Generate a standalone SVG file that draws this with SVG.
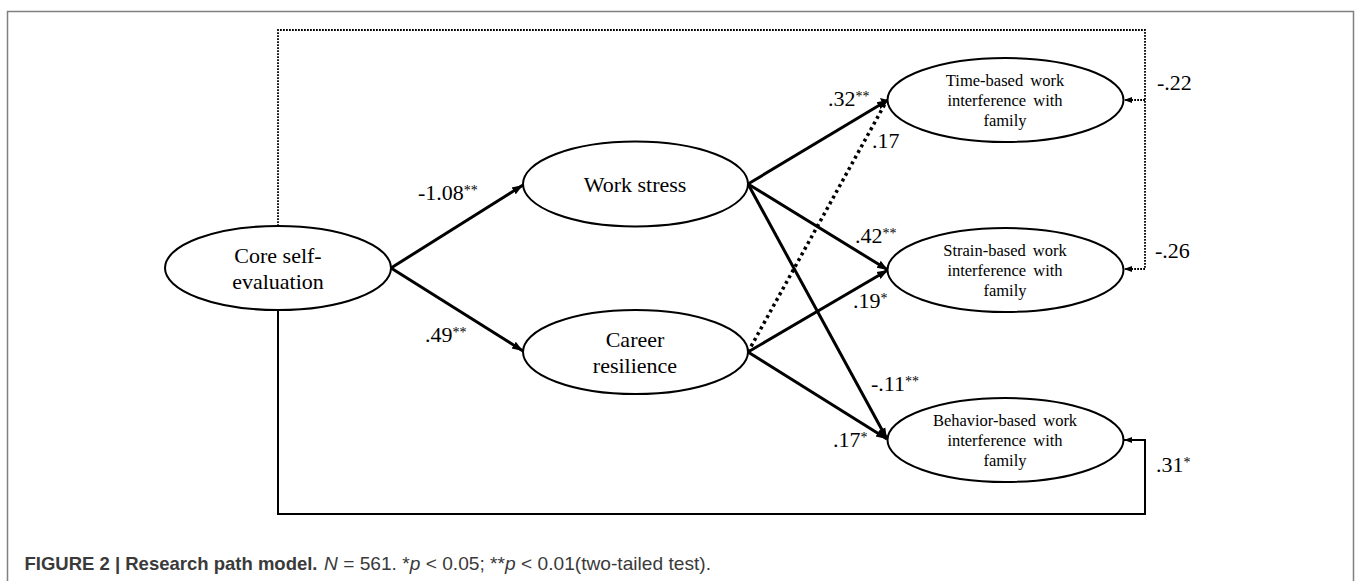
<svg xmlns="http://www.w3.org/2000/svg" width="1357" height="581" viewBox="0 0 1357 581">
<style>
.node ellipse{fill:#fff;stroke:#000;stroke-width:2}
.big{font-family:"Liberation Serif","Times New Roman",serif;font-size:22px;fill:#000;text-anchor:middle}
.small{font-family:"Liberation Serif","Times New Roman",serif;font-size:16.5px;fill:#000;text-anchor:middle;word-spacing:3px}
.lbl{font-family:"Liberation Serif","Times New Roman",serif;font-size:22px;fill:#000}
.sup{font-size:14px}
.arr{fill:none;stroke:#000;stroke-width:3}
.dotb{fill:none;stroke:#000;stroke-width:3.5;stroke-dasharray:3 3.5}
.dott{fill:none;stroke:#000;stroke-width:1.8;stroke-dasharray:1.8 1.2}
.solid{fill:none;stroke:#000;stroke-width:2}
.cap{font-family:"Liberation Sans",Arial,sans-serif;font-size:18.5px;fill:#3a3a3a}
</style>
<defs>
<marker id="ah" markerWidth="12" markerHeight="10" refX="11" refY="5" orient="auto" markerUnits="userSpaceOnUse"><path d="M0,1 L11,5 L0,9 z" fill="#000"/></marker>
<marker id="ahs" markerWidth="9" markerHeight="8" refX="8" refY="4" orient="auto" markerUnits="userSpaceOnUse"><path d="M0,1 L8,4 L0,7 z" fill="#000"/></marker>
</defs>
<rect width="1357" height="581" fill="#fff"/>
<path d="M7.5,581 V11.5 H1353.5 V581" fill="none" stroke="#808080" stroke-width="1.5"/>

<g id="connectors">
<path class="dott" d="M278,226 V30 H1145 V269"/>
<path class="dott" d="M1145,100 H1124" marker-end="url(#ahs)"/>
<path class="dott" d="M1145,269 H1124" marker-end="url(#ahs)"/>
<path class="solid" d="M278,310 V514 H1145 V440 H1124" marker-end="url(#ahs)"/>
<line class="arr" x1="391" y1="268" x2="523" y2="185" marker-end="url(#ah)"/>
<line class="arr" x1="391" y1="268" x2="523" y2="351" marker-end="url(#ah)"/>
<line class="arr" x1="748" y1="184" x2="888" y2="100" marker-end="url(#ah)"/>
<line class="arr" x1="748" y1="184" x2="888" y2="270" marker-end="url(#ah)"/>
<line class="arr" x1="748" y1="184" x2="887" y2="439" marker-end="url(#ah)"/>
<line class="dotb" x1="748" y1="352" x2="886" y2="102"/>
<line class="arr" x1="748" y1="352" x2="888" y2="270" marker-end="url(#ah)"/>
<line class="arr" x1="748" y1="352" x2="887" y2="439" marker-end="url(#ah)"/>
<path d="M880,98 L888,100 L884,107 z" fill="#000"/>
</g>

<g id="labels">
<text class="lbl" x="418" y="200">-1.08<tspan class="sup" dy="-5">**</tspan></text>
<text class="lbl" x="425" y="341.5">.49<tspan class="sup" dy="-5">**</tspan></text>
<text class="lbl" x="828" y="106">.32<tspan class="sup" dy="-5">**</tspan></text>
<text class="lbl" x="872" y="147.5">.17</text>
<text class="lbl" x="855" y="243">.42<tspan class="sup" dy="-5">**</tspan></text>
<text class="lbl" x="853" y="308">.19<tspan class="sup" dy="-5">*</tspan></text>
<text class="lbl" x="871" y="390.5">-.11<tspan class="sup" dy="-5">**</tspan></text>
<text class="lbl" x="833" y="446.5">.17<tspan class="sup" dy="-5">*</tspan></text>
<text class="lbl" x="1157" y="90">-.22</text>
<text class="lbl" x="1155" y="258">-.26</text>
<text class="lbl" x="1156" y="471.5">.31<tspan class="sup" dy="-5">*</tspan></text>
</g>

<g id="core" class="node">
<ellipse cx="278" cy="268" rx="113" ry="42"/>
<text class="big" x="278" y="263">Core self-</text>
<text class="big" x="278" y="288.5">evaluation</text>
</g>
<g id="workstress" class="node">
<ellipse cx="635.5" cy="184" rx="112.5" ry="42.5"/>
<text class="big" x="635" y="191.5">Work stress</text>
</g>
<g id="career" class="node">
<ellipse cx="635.5" cy="352" rx="112.5" ry="42"/>
<text class="big" x="635" y="346.5">Career</text>
<text class="big" x="635" y="372.5">resilience</text>
</g>
<g id="timebased" class="node">
<ellipse cx="1005.5" cy="100" rx="118" ry="42"/>
<text class="small" x="1005" y="86">Time-based work</text>
<text class="small" x="1005" y="106">interference with</text>
<text class="small" x="1005" y="126">family</text>
</g>
<g id="strainbased" class="node">
<ellipse cx="1005.5" cy="270" rx="118" ry="42"/>
<text class="small" x="1005" y="256">Strain-based work</text>
<text class="small" x="1005" y="276">interference with</text>
<text class="small" x="1005" y="296">family</text>
</g>
<g id="behaviorbased" class="node">
<ellipse cx="1005.5" cy="440" rx="118" ry="42"/>
<text class="small" x="1005" y="426">Behavior-based work</text>
<text class="small" x="1005" y="446">interference with</text>
<text class="small" x="1005" y="466">family</text>
</g>

<text class="cap" x="24.5" y="570" font-weight="bold" fill="#222" textLength="293" lengthAdjust="spacingAndGlyphs">FIGURE 2 | Research path model.</text>
<text class="cap" x="324" y="570" textLength="387" lengthAdjust="spacingAndGlyphs"><tspan font-style="italic">N</tspan> = 561. *<tspan font-style="italic">p</tspan> &lt; 0.05; **<tspan font-style="italic">p</tspan> &lt; 0.01(two-tailed test).</text>
</svg>
